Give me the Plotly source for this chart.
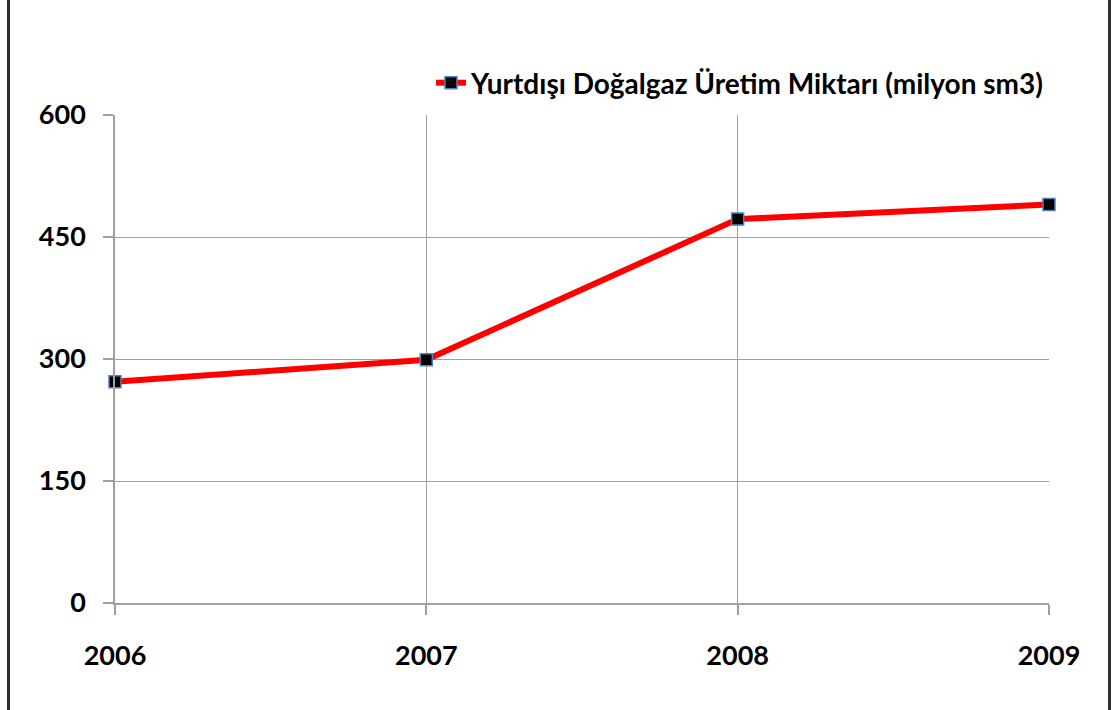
import plotly.graph_objects as go

years = [2006, 2007, 2008, 2009]
values = [272, 299, 472, 490]
series_name = "Yurtdışı Doğalgaz Üretim Miktarı (milyon sm3)"
y_ticks = [0, 150, 300, 450, 600]

W, H = 1114, 710
L, R, T, B = 115, 65, 115, 107
pw, ph = W - L - R, H - T - B

def px_x(p):  # page pixel -> paper x
    return (p - L) / pw

def px_y(p):  # page pixel -> paper y
    return (H - B - p) / ph

fig = go.Figure()
fig.add_trace(go.Scatter(
    x=years, y=values, mode="lines+markers", name=series_name,
    line=dict(color="#FF0000", width=6),
    marker=dict(symbol="square", size=12, color="#000000",
                line=dict(color="#4F81BD", width=1.5)),
    cliponaxis=False,
))

font_family = "Lato, 'Open Sans', sans-serif"
fig.update_layout(
    width=W, height=H,
    margin=dict(l=L, r=R, t=T, b=B, autoexpand=False),
    paper_bgcolor="white", plot_bgcolor="white",
    showlegend=True,
    legend=dict(x=1.0, xanchor="right", y=px_y(83), yanchor="middle",
                font=dict(family=font_family, size=28, color="#000000",
                          weight="bold"),
                bgcolor="rgba(0,0,0,0)"),
    font=dict(family=font_family, color="#000000"),
)
fig.update_xaxes(
    range=[2006, 2009], tickvals=years, ticktext=[str(y) for y in years],
    showgrid=True, gridcolor="#A0A0A0", gridwidth=1,
    showline=True, linecolor="#A0A0A0", linewidth=1.5,
    ticks="outside", ticklen=10, tickcolor="#A0A0A0", tickwidth=1.5,
    tickfont=dict(family=font_family, size=27, color="#000000", weight="bold"),
    ticklabelstandoff=18, zeroline=False, mirror=False,
)
fig.update_yaxes(
    range=[0, 600], tickvals=y_ticks,
    showgrid=True, gridcolor="#A0A0A0", gridwidth=1,
    showline=True, linecolor="#A0A0A0", linewidth=1.5,
    ticks="outside", ticklen=10, tickcolor="#A0A0A0", tickwidth=1.5,
    tickfont=dict(family=font_family, size=27, color="#000000", weight="bold"),
    ticklabelstandoff=12, zeroline=False,
)
# outer frame edges (left and right visible)
for xp in (8.5, 1109.5):
    fig.add_shape(type="line", xref="paper", yref="paper",
                  x0=px_x(xp), x1=px_x(xp), y0=px_y(-5), y1=px_y(715),
                  line=dict(color="#303030", width=3), layer="above")

fig.write_html(
    "out.html",
    config={"displayModeBar": False},
    post_script="document.body.style.margin='0';"
                "document.documentElement.style.overflow='hidden';",
)
